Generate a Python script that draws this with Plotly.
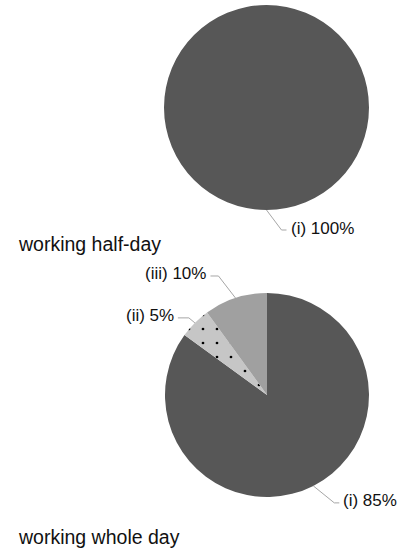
import math
import plotly.graph_objects as go

W, H = 405, 552

# ---- data ----
half_labels = ["(i)"]
half_values = [100]
whole_labels = ["(i)", "(ii)", "(iii)"]
whole_values = [85, 5, 10]
titles = ["working half-day", "working whole day"]

colors = ["#575757", "#c6c6c6", "#a0a0a0"]
patterns = ["", ".", ""]

# pie geometry in pixels (center x, center y, radius)
pies = [
    dict(labels=half_labels, values=half_values, cx=266.5, cy=107.5, r=102.5),
    dict(labels=whole_labels, values=whole_values, cx=267, cy=395, r=102),
]

fig = go.Figure()

def px(x):
    return x / W

def py(y):
    return 1 - y / H

label_font = dict(family="Liberation Sans, Arial", size=17, color="#111111")
shapes = []
annotations = []

for k, p in enumerate(pies):
    n = len(p["values"])
    fig.add_trace(go.Pie(
        labels=p["labels"], values=p["values"], sort=False,
        direction="clockwise", rotation=0, textinfo="none",
        hoverinfo="label+percent",
        marker=dict(colors=colors[:n], line=dict(width=0),
                    pattern=dict(shape=patterns[:n], fgcolor="black",
                                 bgcolor=colors[:n],
                                 size=14, solidity=0.03, fillmode="replace")),
        domain=dict(x=[px(p["cx"] - p["r"]), px(p["cx"] + p["r"])],
                    y=[py(p["cy"] + p["r"]), py(p["cy"] - p["r"])]),
        showlegend=False,
    ))
    total = sum(p["values"])
    cum = 0
    for lab, v in zip(p["labels"], p["values"]):
        mid = (cum + v / 2) / total * 2 * math.pi
        cum += v
        ex = p["cx"] + p["r"] * math.sin(mid)
        ey = p["cy"] - p["r"] * math.cos(mid)
        right = math.sin(mid) >= -1e-9
        down = math.cos(mid) < 0
        pct = round(v / total * 100)
        text = f"{lab} {pct}%"
        if down:
            dy = 17 if abs(math.sin(mid)) > 0.1 else 20
            dx = 21 if abs(math.sin(mid)) > 0.1 else 15
            bx, by = ex + dx, ey + dy
            tx = bx + 5
        else:
            if abs(math.sin(mid)) < 0.5:
                bx, by = ex - 17, ey - 22
                tx = bx - 8
            else:
                bx, by = ex - 6, ey - 5
                tx = bx - 11
        path = f"M {px(ex)} {py(ey)} L {px(bx)} {py(by)} L {px(tx)} {py(by)}"
        shapes.append(dict(type="path", xref="paper", yref="paper", path=path,
                           line=dict(color="#a6a6a6", width=1)))
        annotations.append(dict(
            x=px(tx + (2 if right and down else -2)), y=py(by - 2),
            xref="paper", yref="paper", text=text, showarrow=False,
            xanchor="left" if (right and down) else "right", yanchor="middle",
            font=label_font))

title_y = [244, 537]
for t, ty in zip(titles, title_y):
    annotations.append(dict(
        x=px(16), y=py(ty), xref="paper", yref="paper", text=t,
        showarrow=False, xanchor="left", yanchor="middle",
        font=dict(family="Liberation Sans, Arial", size=19.5, color="#111111")))

fig.update_layout(
    width=W, height=H, margin=dict(l=0, r=0, t=0, b=0),
    paper_bgcolor="white", plot_bgcolor="white",
    shapes=shapes, annotations=annotations,
)

fig.write_html("out.html", config={"displayModeBar": False},
               post_script="document.body.style.margin='0';")
